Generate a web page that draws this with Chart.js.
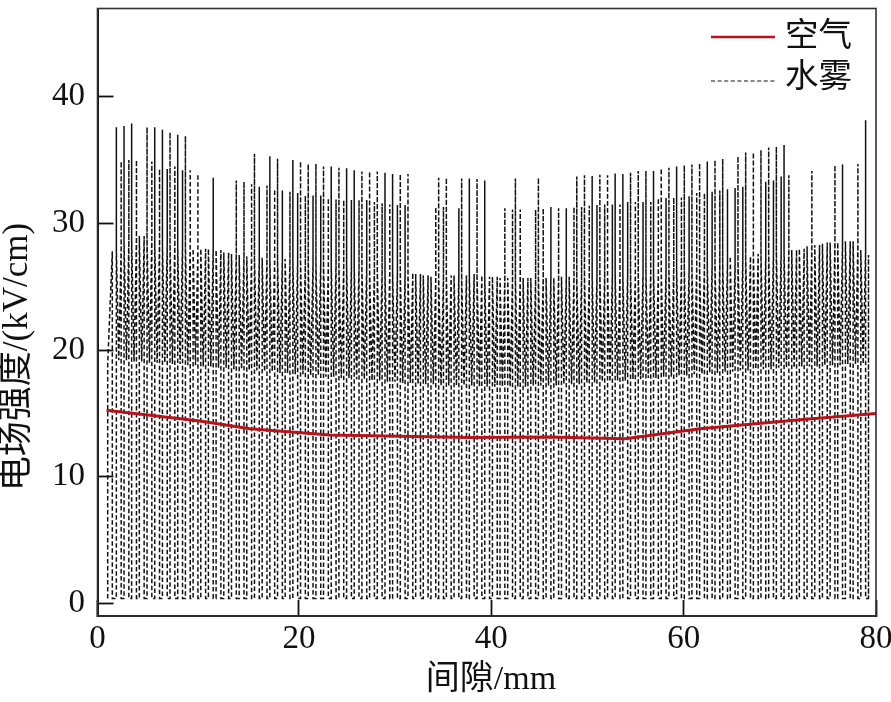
<!DOCTYPE html>
<html>
<head>
<meta charset="utf-8">
<style>
  html, body { margin: 0; padding: 0; background: #fff; }
  canvas { display: block; }
</style>
<script src="https://cdn.jsdelivr.net/npm/chart.js@4"></script>
</head>
<body>
<canvas id="chart" width="891" height="702"></canvas>
<script>
// Tick values and labels
const xTicks = [-0.94, 20, 40, 60, 80];
const xTickLabels = ["0", "20", "40", "60", "80"];
const yTicks = [0, 10, 20, 30, 40];
const yTickLabels = ["0", "10", "20", "30", "40"];

// 空气 curve
const airX = [0, 9.7, 14.9, 23.2, 30.5, 37.8, 46.1, 53.9, 61.7, 72.1, 80];
const airY = [15.25, 14.4, 13.8, 13.3, 13.2, 13.1, 13.15, 13.0, 13.8, 14.5, 15.0];

// 水雾 curve, one entry per discharge period
const sprayX = [
  1.02, 1.82, 2.61, 3.41, 4.21, 5.01, 5.81, 6.6, 7.4, 8.2,
  9.0, 9.8, 10.59, 11.39, 12.19, 12.99, 13.79, 14.58, 15.38, 16.18,
  16.98, 17.78, 18.57, 19.37, 20.17, 20.97, 21.77, 22.56, 23.36, 24.16,
  24.96, 25.75, 26.55, 27.35, 28.15, 28.95, 29.74, 30.54, 31.34, 32.14,
  32.93, 33.73, 34.53, 35.33, 36.13, 36.92, 37.72, 38.52, 39.32, 40.12,
  40.91, 41.71, 42.51, 43.31, 44.11, 44.9, 45.7, 46.5, 47.3, 48.1,
  48.89, 49.69, 50.49, 51.29, 52.09, 52.88, 53.68, 54.48, 55.28, 56.08,
  56.87, 57.67, 58.47, 59.27, 60.07, 60.86, 61.66, 62.46, 63.26, 64.06,
  64.85, 65.65, 66.45, 67.25, 68.04, 68.84, 69.64, 70.44, 71.24, 72.03,
  72.83, 73.63, 74.43, 75.23, 76.02, 76.82, 77.62, 78.42, 79.22
];
const sprayTall = [
  37.6, 37.7, 37.9, 29.0, 37.6, 37.6, 37.4, 37.2, 37.0, 36.9,
  28.0, 28.0, 28.0, 27.9, 27.7, 27.6, 27.5, 27.4, 35.5, 27.3,
  35.3, 35.1, 27.2, 35.0, 34.9, 34.7, 34.7, 34.5, 34.5, 34.4,
  34.35, 34.2, 34.1, 34.1, 34.1, 34.0, 33.9, 33.9, 33.9, 26.0,
  25.9, 25.8, 33.6, 33.6, 25.9, 33.55, 33.55, 33.5, 33.4, 25.8,
  25.7, 25.7, 33.55, 25.7, 25.7, 33.6, 25.7, 25.7, 25.8, 25.8,
  33.7, 33.8, 33.75, 33.85, 33.8, 33.95, 33.9, 34.0, 34.15, 34.15,
  34.15, 34.35, 34.4, 34.5, 34.6, 34.65, 34.75, 34.9, 35.0, 35.1,
  27.4, 35.3, 35.6, 35.6, 35.8, 36.0, 36.05, 36.2, 27.9, 27.9,
  28.2, 28.3, 28.4, 28.5, 28.5, 28.6, 28.6, 27.9, 27.5
];
const sprayMid = [
  34.9, 35.0, 35.0, 29.0, 34.9, 34.3, 34.3, 34.5, 34.2, 34.2,
  33.9, 28.0, 33.6, 27.8, 27.6, 33.4, 33.3, 33.1, 32.9, 33.0,
  32.7, 32.6, 32.5, 32.4, 32.2, 32.2, 32.2, 32.0, 31.9, 31.85,
  31.85, 31.85, 31.85, 31.7, 31.6, 31.5, 31.45, 31.45, 26.1, 25.9,
  25.9, 31.3, 31.3, 25.9, 31.2, 25.9, 26.0, 25.9, 25.8, 25.8,
  31.2, 31.1, 31.1, 25.7, 31.1, 31.2, 31.3, 31.2, 31.2, 31.3,
  31.3, 31.4, 31.45, 31.5, 31.5, 31.5, 31.7, 31.7, 31.7, 31.7,
  32.0, 32.0, 32.05, 32.05, 32.15, 32.4, 32.4, 32.5, 32.6, 32.7,
  32.8, 32.9, 27.4, 27.6, 33.3, 33.4, 33.7, 33.8, 27.9, 28.0,
  34.15, 28.3, 28.5, 34.6, 34.65, 28.6, 34.7, 38.15
];
const sprayShoulder = [
  28.0, 28.6, 28.9, 29.0, 28.8, 28.6, 28.5, 28.4, 28.3, 28.2,
  28.0, 28.0, 28.0, 27.9, 27.7, 27.6, 27.5, 27.4, 27.3, 27.3,
  27.2, 27.2, 27.2, 27.1, 27.0, 27.0, 26.9, 26.8, 26.8, 26.7,
  26.6, 26.6, 26.5, 26.4, 26.3, 26.3, 26.2, 26.1, 26.1, 26.0,
  25.9, 25.8, 25.8, 25.9, 25.9, 25.9, 26.0, 25.9, 25.8, 25.8,
  25.7, 25.7, 25.7, 25.7, 25.7, 25.7, 25.7, 25.7, 25.8, 25.8,
  25.8, 25.8, 25.9, 25.9, 26.0, 26.0, 26.0, 26.1, 26.1, 26.2,
  26.2, 26.3, 26.4, 26.5, 26.5, 26.6, 26.6, 26.7, 26.8, 26.9,
  27.0, 27.1, 27.4, 27.6, 27.6, 27.7, 27.8, 27.9, 27.9, 28.0,
  28.2, 28.3, 28.4, 28.5, 28.5, 28.6, 28.6, 27.9, 27.5
];
const sprayFloor = [
  19.2, 19.2, 19.1, 19.1, 19.0, 19.0, 19.0, 18.9, 18.9, 18.8,
  18.8, 18.7, 18.7, 18.6, 18.6, 18.5, 18.5, 18.4, 18.4, 18.3,
  18.3, 18.2, 18.2, 18.1, 18.1, 18.0, 18.0, 17.9, 17.9, 17.8,
  17.8, 17.7, 17.7, 17.6, 17.6, 17.5, 17.5, 17.4, 17.4, 17.3,
  17.3, 17.3, 17.2, 17.2, 17.2, 17.2, 17.2, 17.1, 17.1, 17.1,
  17.1, 17.1, 17.1, 17.1, 17.2, 17.2, 17.2, 17.2, 17.3, 17.3,
  17.3, 17.4, 17.4, 17.5, 17.5, 17.6, 17.6, 17.7, 17.7, 17.8,
  17.8, 17.9, 17.9, 18.0, 18.0, 18.1, 18.1, 18.2, 18.2, 18.3,
  18.3, 18.4, 18.4, 18.5, 18.5, 18.5, 18.6, 18.6, 18.6, 18.7,
  18.7, 18.7, 18.8, 18.8, 18.8, 18.9, 18.9, 18.9, 19.0
];
const sprayBase = 0.4;
const sprayLeadX = [0.12, 0.12, 0.6, 0.6];
const sprayLeadY = [0.4, 18.9, 27.8, 0.4];

const FONT = '"Liberation Serif", "Noto Sans CJK SC", serif';
const INK = "#111";

// Builds the spray polyline: one up/down tooth pair for every period
const sprayPoints = sprayLeadX.map((x, i) => ({ x, y: sprayLeadY[i] }));
sprayX.forEach((t, j) => {
  sprayPoints.push({ x: t, y: sprayBase });
  sprayPoints.push({ x: t, y: sprayTall[j] });
  sprayPoints.push({ x: t, y: sprayShoulder[j] });
  if (j < sprayMid.length) {
    const m = t + 0.5;
    sprayPoints.push({ x: t + 0.25, y: sprayFloor[j] });
    sprayPoints.push({ x: m, y: sprayShoulder[j] });
    sprayPoints.push({ x: m, y: sprayMid[j] });
    sprayPoints.push({ x: m, y: sprayBase });
  } else {
    sprayPoints.push({ x: t, y: sprayBase });
  }
});

// Frame, axis titles and the legend in the plot's upper right corner
const figureText = {
  id: "figureText",
  afterDraw(chart) {
    const { ctx, chartArea: a } = chart;
    ctx.save();
    ctx.strokeStyle = "#333";
    ctx.lineWidth = 1.6;
    ctx.strokeRect(a.left, a.top, a.right - a.left, a.bottom - a.top);

    ctx.fillStyle = "#111";
    ctx.font = "34px " + FONT;
    ctx.textAlign = "center";
    ctx.textBaseline = "middle";
    ctx.fillText("间隙/mm", 491, 680);
    ctx.save();
    ctx.translate(18, 357);
    ctx.rotate(-Math.PI / 2);
    ctx.font = "35px " + FONT;
    ctx.fillText("电场强度/(kV/cm)", 0, 0);
    ctx.restore();

    ctx.textAlign = "left";
    ctx.font = "33.5px " + FONT;
    ctx.fillText("空气", 785, 37);
    ctx.fillText("水雾", 785, 78);

    ctx.strokeStyle = "#b8121b";
    ctx.lineWidth = 2.6;
    ctx.beginPath();
    ctx.moveTo(711, 37);
    ctx.lineTo(775, 37);
    ctx.stroke();
    ctx.strokeStyle = INK;
    ctx.lineWidth = 1.1;
    ctx.setLineDash([4, 2.6]);
    ctx.beginPath();
    ctx.moveTo(711, 81);
    ctx.lineTo(775, 81);
    ctx.stroke();
    ctx.restore();
  },
};

new Chart(document.getElementById("chart"), {
  type: "line",
  plugins: [figureText],
  data: {
    datasets: [
      {
        label: "空气",
        data: airX.map((x, i) => ({ x, y: airY[i] })),
        borderColor: "#b8121b",
        borderWidth: 3,
        pointRadius: 0,
        tension: 0,
      },
      {
        label: "水雾",
        data: sprayPoints,
        borderColor: INK,
        borderWidth: 1.5,
        borderDash: [4.5, 2.5],
        pointRadius: 0,
        tension: 0,
      },
    ],
  },
  options: {
    responsive: false,
    animation: false,
    layout: { padding: { top: 8.5, right: 15, left: 0, bottom: 0 } },
    plugins: { legend: { display: false }, tooltip: { enabled: false } },
    scales: {
      x: {
        type: "linear",
        min: -0.94,
        max: 80,
        afterFit: (s) => {
          s.height = 86;
          s.paddingLeft = 0;
          s.paddingRight = 0;
        },
        afterBuildTicks: (s) => {
          s.ticks = xTicks.map((value) => ({ value }));
        },
        grid: { drawOnChartArea: false, tickLength: -16, tickColor: INK, tickWidth: 1.8 },
        border: { color: INK, width: 2 },
        ticks: {
          callback: (v, i) => xTickLabels[i],
          font: { family: FONT, size: 33 },
          color: "#111",
          padding: 20,
          maxRotation: 0,
          autoSkip: false,
        },
      },
      y: {
        min: -0.99,
        max: 46.97,
        afterFit: (s) => {
          s.width = 97.5;
          s.paddingTop = 0;
          s.paddingBottom = 0;
        },
        afterBuildTicks: (s) => {
          s.ticks = yTicks.map((value) => ({ value }));
        },
        grid: { drawOnChartArea: false, tickLength: -16, tickColor: INK, tickWidth: 1.8 },
        border: { color: INK, width: 2 },
        ticks: {
          callback: (v, i) => yTickLabels[i],
          font: { family: FONT, size: 33 },
          color: "#111",
          padding: 28.5,
          autoSkip: false,
        },
      },
    },
  },
});
</script>
</body>
</html>
